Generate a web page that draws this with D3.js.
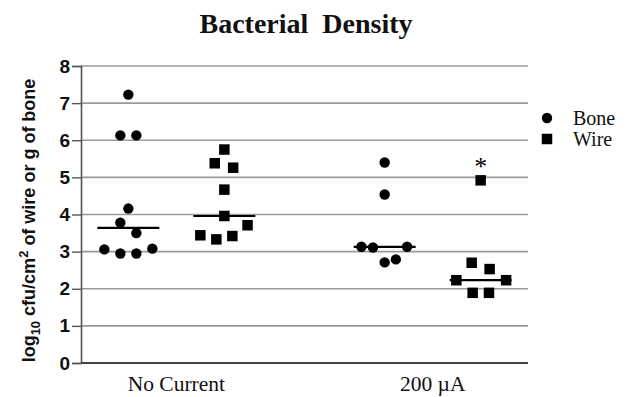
<!DOCTYPE html>
<html>
<head>
<meta charset="utf-8">
<script src="https://cdn.jsdelivr.net/npm/d3@7"></script>
<style>
  body { margin: 0; background: #fff; }
  svg { display: block; }
</style>
</head>
<body>
<div id="scatterplot"></div>
<script>
// #############################################################
// DATA
// #############################################################
var groups = ["No Current", "200 \u00b5A"];
var series = ["Bone", "Wire"];
var yTicks = [0, 1, 2, 3, 4, 5, 6, 7, 8];

// log10 cfu values
var noCurrentBone = [7.23, 6.13, 6.13, 4.16, 3.78, 3.50, 3.06, 2.95, 2.95, 3.08];
var noCurrentWire = [5.75, 5.38, 5.26, 4.67, 3.96, 3.71, 3.44, 3.33, 3.42];
var currentBone = [5.40, 4.54, 3.13, 3.11, 3.13, 2.71, 2.79];
var currentWire = [4.92, 2.70, 2.53, 2.23, 2.23, 1.89, 1.89];

// column scatter slots (sideways spread of each point)
var noCurrentBoneSlot = [0, -0.5, 0.5, 0, -0.5, 0.5, -1.5, -0.5, 0.5, 1.5];
var noCurrentWireSlot = [0, -0.6, 0.55, 0, 0, 1.45, -1.5, -0.5, 0.5];
var currentBoneSlot = [0, 0, -1.45, -0.73, 1.4, 0, 0.7];
var currentWireSlot = [0, -0.56, 0.56, -1.52, 1.59, -0.5, 0.52];

var columns = [
  {group: groups[0], series: series[0], values: noCurrentBone, slots: noCurrentBoneSlot},
  {group: groups[0], series: series[1], values: noCurrentWire, slots: noCurrentWireSlot},
  {group: groups[1], series: series[0], values: currentBone, slots: currentBoneSlot},
  {group: groups[1], series: series[1], values: currentWire, slots: currentWireSlot, star: true}
];

// #############################################################
// CANVAS
// #############################################################
var W = 631, H = 397;
var margin = {top: 66, right: 103, bottom: 34, left: 81},
    width = W - margin.left - margin.right,
    height = H - margin.top - margin.bottom;

var svg = d3.select("#scatterplot")
  .append("svg")
    .attr("width", W)
    .attr("height", H);

var g = svg.append("g")
    .attr("transform", "translate(" + margin.left + "," + margin.top + ")");

// scales
var xScale = d3.scalePoint()
    .domain(groups)
    .range([0, width])
    .padding(0.372);

var inner = d3.scalePoint()
    .domain(series)
    .range([-48, 48]);

var yScale = d3.scaleLinear()
    .domain([0, 8])
    .range([height, 0]);

var slotWidth = 16;
var halfMedian = 31;

// #############################################################
// GRID & AXES
// #############################################################
g.append("g")
    .selectAll("line")
    .data(yTicks.filter(d => d > 0))
    .enter()
    .append("line")
      .attr("x1", 0)
      .attr("x2", width)
      .attr("y1", d => yScale(d))
      .attr("y2", d => yScale(d))
      .style("stroke", "#9a9a9a")
      .style("stroke-width", 1.6);

var yAxis = d3.axisLeft(yScale)
    .tickValues(yTicks)
    .tickSize(9)
    .tickPadding(2);

var yG = g.append("g")
    .call(yAxis);
yG.select(".domain").style("stroke", "#555").style("stroke-width", 1.6);
yG.selectAll(".tick line").style("stroke", "#555").style("stroke-width", 1.4);
yG.selectAll(".tick text")
    .attr("font-family", "Liberation Sans, Arial, sans-serif")
    .attr("font-weight", "bold")
    .attr("font-size", 19)
    .attr("fill", "#111");

// bottom axis line
g.append("line")
    .attr("x1", 0)
    .attr("x2", width)
    .attr("y1", height)
    .attr("y2", height)
    .style("stroke", "#444")
    .style("stroke-width", 2.2);

// category labels
g.selectAll(".xLabel")
    .data(groups)
    .enter()
    .append("text")
      .attr("class", "xLabel")
      .attr("x", d => xScale(d))
      .attr("y", height + 28)
      .attr("text-anchor", "middle")
      .style("font-family", "Liberation Serif, Times New Roman, serif")
      .style("font-size", "21.5px")
      .style("fill", "#111")
      .text(d => d);

// y axis label
var yLabel = svg.append("text")
    .attr("text-anchor", "middle")
    .attr("transform", "translate(35," + (margin.top + height / 2 + 6) + ") rotate(-90)")
    .style("font-family", "Liberation Sans, Arial, sans-serif")
    .style("font-weight", "bold")
    .style("font-size", "18px")
    .style("fill", "#111");
yLabel.append("tspan").text("log");
yLabel.append("tspan").attr("dy", 5).style("font-size", "13px").text("10");
yLabel.append("tspan").attr("dy", -5).text(" cfu/cm");
yLabel.append("tspan").attr("dy", -7).style("font-size", "13px").text("2");
yLabel.append("tspan").attr("dy", 7).text(" of wire or g of bone");

// title
svg.append("text")
    .attr("x", 306)
    .attr("y", 33)
    .attr("text-anchor", "middle")
    .style("font-family", "Liberation Serif, Times New Roman, serif")
    .style("font-weight", "bold")
    .style("font-size", "28px")
    .style("white-space", "pre")
    .style("fill", "#111")
    .text("Bacterial  Density");

// #############################################################
// POINTS
// #############################################################
var sym = {
  Bone: d3.symbol().type(d3.symbolCircle).size(Math.PI * 5.2 * 5.2),
  Wire: d3.symbol().type(d3.symbolSquare).size(10.5 * 10.5)
};

columns.forEach(col => {
  var cx = xScale(col.group) + inner(col.series);
  var colG = g.append("g");

  colG.selectAll("path")
    .data(col.values)
    .enter()
    .append("path")
      .attr("d", sym[col.series])
      .attr("transform", (d, i) => "translate(" + (cx + col.slots[i] * slotWidth) + "," + yScale(d) + ")")
      .style("fill", "#000");

  var med = d3.median(col.values);
  colG.append("line")
    .attr("x1", cx - halfMedian)
    .attr("x2", cx + halfMedian)
    .attr("y1", yScale(med))
    .attr("y2", yScale(med))
    .style("stroke", "#000")
    .style("stroke-width", 2.2);

  if (col.star) {
    colG.append("text")
      .attr("x", cx)
      .attr("y", yScale(d3.max(col.values)) - 5)
      .attr("text-anchor", "middle")
      .style("font-family", "Liberation Serif, Times New Roman, serif")
      .style("font-size", "26px")
      .style("fill", "#000")
      .text("*");
  }
});

// #############################################################
// LEGEND
// #############################################################
var legend = svg.append("g")
    .attr("transform", "translate(547,118)");

var lg = legend.selectAll("g")
    .data(series)
    .enter()
    .append("g")
      .attr("transform", (d, i) => "translate(0," + i * 21 + ")");

lg.append("path")
    .attr("d", d => sym[d]())
    .style("fill", "#000");

lg.append("text")
    .attr("x", 26)
    .attr("y", 7)
    .style("font-family", "Liberation Serif, Times New Roman, serif")
    .style("font-size", "20px")
    .style("fill", "#111")
    .text(d => d);
</script>
</body>
</html>
